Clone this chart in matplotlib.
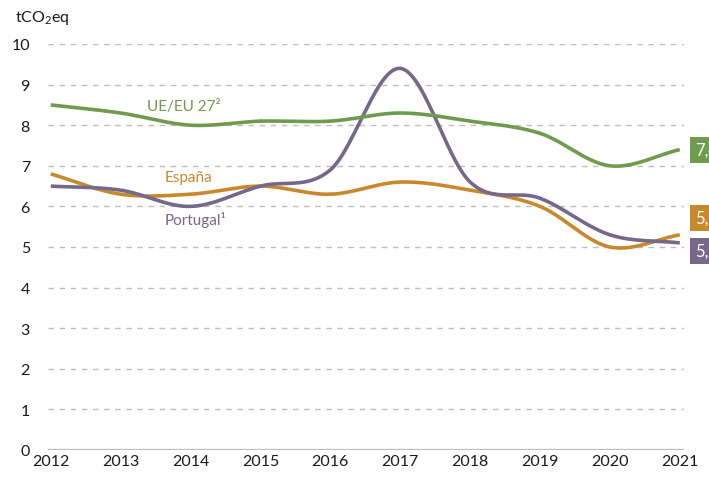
import numpy as np
import matplotlib.pyplot as plt

# colours
GREEN = '#6E9B4E'
ORANGE = '#C8892C'
PURPLE = '#756889'
GRID = '#BDBDBD'
TEXT = '#1A1A1A'

plt.rcParams.update({
    'font.family': ['Lato', 'DejaVu Sans'],
    'mathtext.fontset': 'custom',
    'mathtext.rm': 'Lato',
    'mathtext.it': 'Lato',
})

# data
years = [2012, 2013, 2014, 2015, 2016, 2017, 2018, 2019, 2020, 2021]
eu = [8.5, 8.3, 8.0, 8.1, 8.1, 8.3, 8.1, 7.8, 7.0, 7.4]
espana = [6.8, 6.3, 6.3, 6.5, 6.3, 6.6, 6.4, 6.0, 5.0, 5.3]
portugal = [6.5, 6.4, 6.0, 6.5, 6.9, 9.4, 6.6, 6.2, 5.3, 5.1]
end_labels = ['7,4', '5,3', '5,1']
y_ticks = [0, 1, 2, 3, 4, 5, 6, 7, 8, 9, 10]


def smooth(x, y, n=30):
    # Catmull-Rom style smoothing, similar to spreadsheet "smoothed line"
    x = np.asarray(x, float)
    y = np.asarray(y, float)
    px = np.concatenate([[2 * x[0] - x[1]], x, [2 * x[-1] - x[-2]]])
    py = np.concatenate([[2 * y[0] - y[1]], y, [2 * y[-1] - y[-2]]])
    xs, ys = [], []
    t = np.linspace(0, 1, n)
    for i in range(1, len(px) - 2):
        p0, p1, p2, p3 = py[i - 1], py[i], py[i + 1], py[i + 2]
        q0, q1, q2, q3 = px[i - 1], px[i], px[i + 1], px[i + 2]
        for arr, a0, a1, a2, a3 in ((xs, q0, q1, q2, q3), (ys, p0, p1, p2, p3)):
            arr.extend(0.5 * (2 * a1 + (-a0 + a2) * t
                              + (2 * a0 - 5 * a1 + 4 * a2 - a3) * t ** 2
                              + (-a0 + 3 * a1 - 3 * a2 + a3) * t ** 3))
    return np.array(xs), np.array(ys)


fig = plt.figure(figsize=(7.09, 4.81), dpi=100)
ax = fig.add_axes([48 / 709, 1 - 451 / 481, (684 - 48) / 709, (451 - 45) / 481])

for v in y_ticks[1:]:
    ax.axhline(v, color=GRID, linestyle=(0, (4, 4)), linewidth=1.0, zorder=1)
ax.axhline(0, color=GRID, linewidth=1.6, zorder=1)

for series, col in ((espana, ORANGE), (portugal, PURPLE), (eu, GREEN)):
    sx, sy = smooth(years, series)
    ax.plot(sx, sy, color=col, linewidth=2.6, zorder=3, solid_capstyle='butt')

ax.set_xlim(2011.96, 2021.06)
ax.set_ylim(0, 10)
ax.set_yticks(y_ticks)
ax.set_xticks(years)
ax.tick_params(length=0, labelsize=11.5, colors=TEXT, pad=3)
ax.tick_params(axis='y', pad=13)
for s in ax.spines.values():
    s.set_visible(False)

# series names
ax.text(2013.37, 8.47, 'UE/EU 27²', color=GREEN, fontsize=11, va='center')
ax.text(2013.63, 6.72, 'España', color=ORANGE, fontsize=11, va='center')
ax.text(2013.63, 5.69, 'Portugal¹', color=PURPLE, fontsize=11, va='center')

# end value boxes (cut by the figure edge, as in the source)
for lab, yv, col in zip(end_labels, [7.4, 5.72, 4.9], [GREEN, ORANGE, PURPLE]):
    ax.text(2021.22, yv, lab, color='white', fontsize=12, va='center',
            ha='left', clip_on=False,
            bbox=dict(boxstyle='square,pad=0.3', facecolor=col, edgecolor='none'))

fig.text(15 / 709, 1 - 18 / 481, r'tCO$_2$eq', fontsize=11.5, color=TEXT,
         va='center', ha='left')

fig.savefig('out.png', dpi=100)
